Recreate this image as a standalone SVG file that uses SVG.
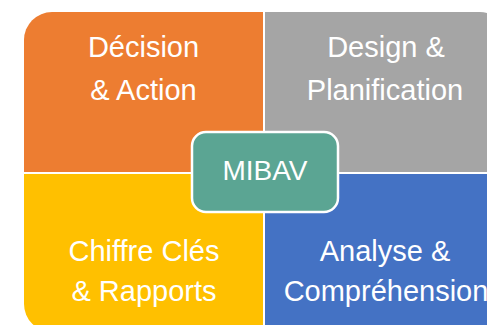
<svg xmlns="http://www.w3.org/2000/svg" width="487" height="325" viewBox="0 0 487 325">
<style>
.lbl{font-family:"Liberation Sans",Arial,sans-serif;font-size:29px;fill:#ffffff;text-anchor:middle}
.ctr{font-family:"Liberation Sans",Arial,sans-serif;font-size:28px;fill:#ffffff;text-anchor:middle}
</style>
<rect width="487" height="325" fill="#ffffff"/>
<g id="decision">
<path d="M24,40 A28,28 0 0 1 52,12 H263 V172 H24 Z" fill="#ED7D31"/>
<text class="lbl" x="143.5" y="57">Décision</text>
<text class="lbl" x="143.5" y="100">&amp; Action</text>
</g>
<g id="design">
<path d="M265,12 H480 A28,28 0 0 1 508,40 V172 H265 Z" fill="#A5A5A5"/>
<text class="lbl" x="386" y="57">Design &amp;</text>
<text class="lbl" x="385" y="100">Planification</text>
</g>
<g id="chiffres">
<path d="M24,174 H263 V332 H52 A28,28 0 0 1 24,304 Z" fill="#FFC000"/>
<text class="lbl" x="144" y="261">Chiffre Clés</text>
<text class="lbl" x="144" y="301">&amp; Rapports</text>
</g>
<g id="analyse">
<path d="M265,174 H508 V304 A28,28 0 0 1 480,332 H265 Z" fill="#4472C4"/>
<text class="lbl" x="385" y="261">Analyse &amp;</text>
<text class="lbl" x="386" y="301">Compréhension</text>
</g>
<g id="mibav">
<rect x="192" y="132" width="146" height="80" rx="14" ry="14" fill="#5BA593" stroke="#ffffff" stroke-width="2.5"/>
<text class="ctr" x="265" y="180">MIBAV</text>
</g>
<g id="connectors"></g>
</svg>
